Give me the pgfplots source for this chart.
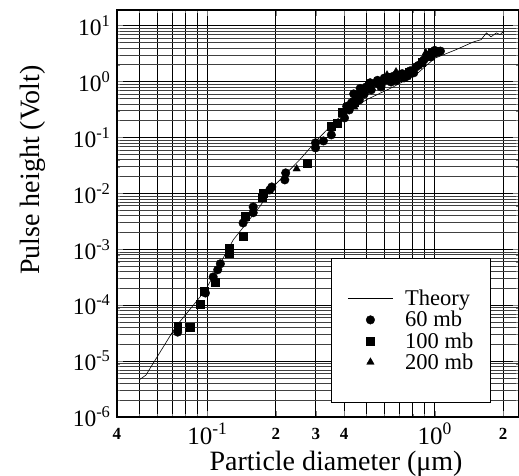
\documentclass[border=0pt]{standalone}
\usepackage{pgfplots}
\pgfplotsset{compat=1.18}
\usepackage{fontspec}
\setmainfont{Liberation Serif}

\begin{document}
\begin{tikzpicture}
\useasboundingbox (0,0) rectangle (519pt,476pt);
\begin{axis}[
    at={(117pt,59pt)}, anchor=south west,
    scale only axis, width=402pt, height=407pt,
    xmode=log, ymode=log,
    xmin=0.04, xmax=2.35, ymin=1e-6, ymax=19,
    axis line style={line width=1.2pt},
    tick align=inside,
    major tick length=6pt, minor tick length=3pt,
    xtick={0.04,0.1,0.2,0.3,0.4,1,2},
    xticklabels={
        \raisebox{5pt}{\fontsize{17}{17}\selectfont\bfseries 4},
        10\textsuperscript{-1},
        \raisebox{5pt}{\fontsize{17}{17}\selectfont\bfseries 2},
        \raisebox{5pt}{\fontsize{17}{17}\selectfont\bfseries 3},
        \raisebox{5pt}{\fontsize{17}{17}\selectfont\bfseries 4},
        10\textsuperscript{0},
        \raisebox{5pt}{\fontsize{17}{17}\selectfont\bfseries 2}},
    minor xtick={0.05,0.06,0.07,0.08,0.09,0.5,0.6,0.7,0.8,0.9},
    xticklabel style={font=\fontsize{25}{25}\selectfont, anchor=base, yshift=-27pt},
    ytick={1e-6,1e-5,1e-4,1e-3,1e-2,1e-1,1,10},
    yticklabels={10\textsuperscript{-6},10\textsuperscript{-5},10\textsuperscript{-4},
        10\textsuperscript{-3},10\textsuperscript{-2},10\textsuperscript{-1},
        10\textsuperscript{0},10\textsuperscript{1}},
    minor ytick={2e-6,3e-6,4e-6,5e-6,6e-6,7e-6,8e-6,9e-6,
        2e-5,3e-5,4e-5,5e-5,6e-5,7e-5,8e-5,9e-5,
        2e-4,3e-4,4e-4,5e-4,6e-4,7e-4,8e-4,9e-4,
        2e-3,3e-3,4e-3,5e-3,6e-3,7e-3,8e-3,9e-3,
        2e-2,3e-2,4e-2,5e-2,6e-2,7e-2,8e-2,9e-2,
        0.2,0.3,0.4,0.5,0.6,0.7,0.8,0.9,
        2,3,4,5,6,7,8,9},
    yticklabel style={font=\fontsize{23.5}{23.5}\selectfont, xshift=-3pt},
    xmajorgrids, xminorgrids, ymajorgrids, yminorgrids,
    major x grid style={black, line width=1pt},
    minor x grid style={black, line width=0.9pt},
    major y grid style={black, line width=0.8pt},
    minor y grid style={black!75, line width=0.5pt},
    xlabel={Particle diameter (μm)},
    ylabel={Pulse height (Volt)},
    every axis x label/.style={at={(axis description cs:0.545,-0.1155)}, anchor=center,
        font=\fontsize{28}{28}\selectfont},
    every axis y label/.style={at={(axis description cs:-0.209,0.607)}, rotate=90,
        anchor=center, font=\fontsize{28}{28}\selectfont},
    legend style={at={(0.930,0.034)}, anchor=south east, draw=black, line width=1pt,
        fill=white, font=\fontsize{22.5}{22.5}\selectfont,
        inner xsep=16pt, inner ysep=31pt, row sep=2pt, column sep=11pt,
        nodes={inner sep=1pt}, cells={anchor=west}},
    legend image code/.code={\draw[mark repeat=2,mark phase=2,#1]
        plot coordinates {(0pt,0pt) (22.5pt,0pt) (45pt,0pt)};},
]

% theory curve
\addplot[black, line width=0.6pt, mark=none] coordinates {
    (0.0500,4.6e-6) (0.0536,5.6e-6) (0.0725,4.1e-5) (0.0904,1.23e-4)
    (0.098,1.86e-4) (0.130,1.48e-3) (0.170,5.8e-3) (0.194,0.0129)
    (0.255,0.040) (0.305,0.092) (0.381,0.23) (0.50,0.47) (0.649,0.78)
    (0.826,1.32) (1.0,2.6) (1.24,3.7) (1.48,5.1) (1.60,5.6) (1.69,7.4)
    (1.77,6.3) (1.87,7.4) (1.94,6.9) (2.02,8.0)
};
\addlegendentry{Theory}

% 60 mb
\addplot[only marks, mark=*, mark size=4.3pt, black, line width=0.4pt] coordinates {
    (0.0740,3.3e-5) (0.098,1.65e-4) (0.106,3.2e-4) (0.111,4.3e-4) (0.114,5.5e-4)
    (0.1435,2.95e-3) (0.159,4.5e-3) (0.159,5.7e-3) (0.192,0.013) (0.188,0.0115)
    (0.219,0.0174) (0.221,0.0232) (0.299,0.065) (0.299,0.080) (0.324,0.0865)
    (0.351,0.111) (0.401,0.223) (0.421,0.310) (0.430,0.414) (0.456,0.509)
    (0.466,0.469) (0.480,0.652) (0.500,0.80) (0.526,0.708) (0.552,0.94)
    (0.581,0.869) (0.611,1.07) (0.643,0.98) (0.697,1.31) (0.733,1.16)
    (0.809,1.43) (0.826,1.82) (0.896,2.43) (0.942,2.99) (0.962,2.75)
    (1.01,3.25) (1.04,3.39)
    (0.44,0.60) (0.47,0.75) (0.52,0.95) (0.56,1.05) (0.60,1.15) (0.66,1.25)
    (0.72,1.38) (0.78,1.55) (0.85,1.95) (0.92,2.7) (1.00,3.6) (1.06,3.5)
    (0.41,0.36) (0.49,0.60) (0.58,0.80) (0.68,1.05) (0.76,1.25)
};
\addlegendentry{60 mb}

% 100 mb
\addplot[only marks, mark=square*, mark size=3.9pt, black, line width=0.4pt] coordinates {
    (0.0740,4.2e-5) (0.0843,4.1e-5) (0.0932,1.05e-4) (0.097,1.8e-4) (0.108,2.6e-4)
    (0.125,8.6e-4) (0.125,1.05e-3) (0.1435,1.73e-3) (0.1465,3.9e-3)
    (0.174,8.6e-3) (0.176,0.0102) (0.274,0.035) (0.351,0.161) (0.373,0.182)
    (0.393,0.286) (0.443,0.431) (0.452,0.575) (0.515,0.83) (0.649,1.21)
    (0.770,1.49) (0.877,2.24) (0.970,3.39)
};
\addlegendentry{100 mb}

% 200 mb
\addplot[only marks, mark=triangle*, mark size=4.3pt, black, line width=0.4pt] coordinates {
    (0.247,0.0274) (0.443,0.351) (0.617,1.31) (0.676,1.49) (0.914,3.25)
};
\addlegendentry{200 mb}

\end{axis}
\end{tikzpicture}
\end{document}
